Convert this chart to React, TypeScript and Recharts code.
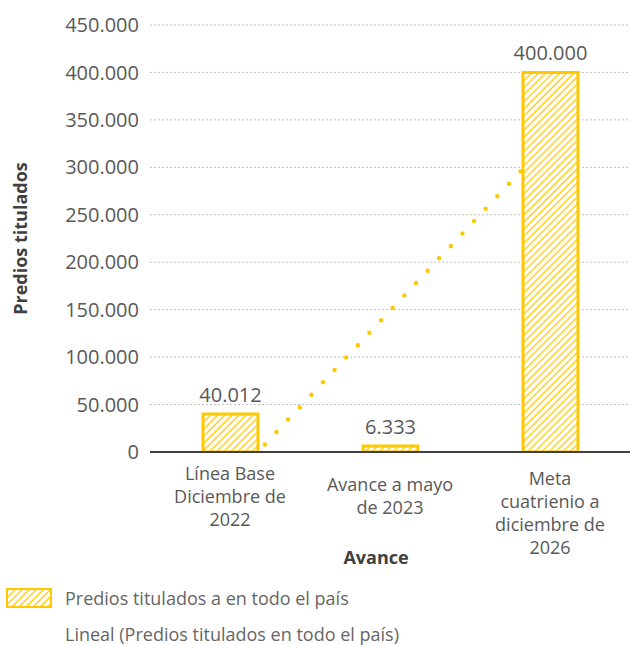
import React from "react";
import {
  ComposedChart,
  Bar,
  Line,
  XAxis,
  YAxis,
  CartesianGrid,
  LabelList,
  Legend,
} from "recharts";

if (typeof document !== "undefined") document.body.style.margin = "0";

// category labels, one entry per line
const categories = [
  ["Línea Base", "Diciembre de", "2022"],
  ["Avance a mayo", "de 2023"],
  ["Meta", "cuatrienio a", "diciembre de", "2026"],
];
const predios = [40012, 6333, 400000];
// Excel linear trendline values at each category
const lineal = [-31212, 148782, 328776];
const yTicks = [0, 50000, 100000, 150000, 200000, 250000, 300000, 350000, 400000, 450000];

const data = categories.map((lines, i) => ({
  name: lines.join(" "),
  lines,
  predios: predios[i],
  lineal: lineal[i],
}));

const YELLOW = "#FFC800";
const TEXT = "#595959";
const FONT = "'Open Sans', 'Noto Sans', sans-serif";

const fmt = (v: number) => String(v).replace(/\B(?=(\d{3})+(?!\d))/g, ".");

// small vertical shifts Excel used for the wrapped labels
const tickShift = [0, 11, 5];

const CategoryTick = ({ x, y, payload, index }: any) => {
  const lines = data[index]?.lines ?? [payload.value];
  return (
    <text
      x={x}
      y={y + 26 + (tickShift[index] || 0)}
      textAnchor="middle"
      fill={TEXT}
      fontSize={18}
      fontFamily={FONT}
    >
      {lines.map((l: string, i: number) => (
        <tspan key={i} x={x} dy={i === 0 ? 0 : 23}>
          {l}
        </tspan>
      ))}
    </text>
  );
};

const YTitle = ({ viewBox }: any) => {
  const cy = viewBox.y + viewBox.height / 2;
  return (
    <text
      x={20}
      y={cy}
      transform={`rotate(-90 20 ${cy})`}
      textAnchor="middle"
      dominantBaseline="central"
      fill="#404040"
      fontSize={18}
      fontWeight={700}
      fontFamily={FONT}
    >
      Predios titulados
    </text>
  );
};

const HatchDef = ({ id }: { id: string }) => (
  <pattern id={id} patternUnits="userSpaceOnUse" width="5" height="5" patternTransform="rotate(45)">
    <rect width="5" height="5" fill="#fff" />
    <line x1="2.5" y1="0" x2="2.5" y2="5" stroke={YELLOW} strokeWidth="1.3" />
  </pattern>
);

const renderLegend = () => (
  <div style={{ fontFamily: FONT, fontSize: 18, color: "#666", fontWeight: 500 }}>
    <div style={{ display: "flex", alignItems: "center", height: 36 }}>
      <svg width={60} height={22} style={{ flex: "none" }}>
        <defs>
          <HatchDef id="hatchLegend" />
        </defs>
        <rect x={7} y={2} width={44} height={18} fill="url(#hatchLegend)" stroke={YELLOW} strokeWidth={2} />
      </svg>
      <span style={{ marginLeft: 5 }}>Predios titulados a en todo el país</span>
    </div>
    <div style={{ display: "flex", alignItems: "center", height: 26, marginTop: 5 }}>
      <span style={{ marginLeft: 65 }}>Lineal (Predios titulados en todo el país)</span>
    </div>
  </div>
);

export default function App() {
  return (
    <ComposedChart
      width={630}
      height={645}
      data={data}
      margin={{ top: 25, right: 0, left: 0, bottom: 73 }}
      style={{ fontFamily: FONT }}
    >
      <defs>
        <HatchDef id="hatch" />
      </defs>
      <CartesianGrid vertical={false} stroke="#BFBFBF" strokeDasharray="2 2" />
      <XAxis
        dataKey="name"
        height={120}
        tick={<CategoryTick />}
        tickLine={false}
        tickSize={0}
        interval={0}
        axisLine={{ stroke: "#404040", strokeWidth: 2 }}
        label={{
          value: "Avance",
          position: "insideBottom",
          offset: 8,
          dx: -14,
          fill: "#404040",
          fontSize: 18,
          fontWeight: 700,
          fontFamily: FONT,
        }}
      />
      <YAxis
        width={150}
        domain={[0, 450000]}
        ticks={yTicks}
        allowDataOverflow
        axisLine={false}
        tickLine={false}
        tickSize={0}
        tickMargin={11}
        tickFormatter={fmt}
        tick={{ fill: TEXT, fontSize: 20, fontFamily: FONT }}
        label={<YTitle />}
      />
      <Legend
        content={renderLegend}
        layout="horizontal"
        verticalAlign="middle"
        align="center"
        wrapperStyle={{ left: 0, top: 580, width: 630 }}
      />
      <Line
        dataKey="lineal"
        stroke={YELLOW}
        strokeWidth={4.5}
        strokeDasharray="0 17"
        strokeLinecap="round"
        dot={false}
        activeDot={false}
        isAnimationActive={false}
        legendType="none"
        zIndex={250}
      />
      <Bar
        dataKey="predios"
        barSize={55}
        fill="url(#hatch)"
        stroke={YELLOW}
        strokeWidth={3}
        isAnimationActive={false}
        zIndex={300}
      >
        <LabelList
          dataKey="predios"
          position="top"
          offset={12}
          formatter={(v: any) => fmt(Number(v))}
          fill={TEXT}
          fontSize={20}
          fontFamily={FONT}
        />
      </Bar>
    </ComposedChart>
  );
}
